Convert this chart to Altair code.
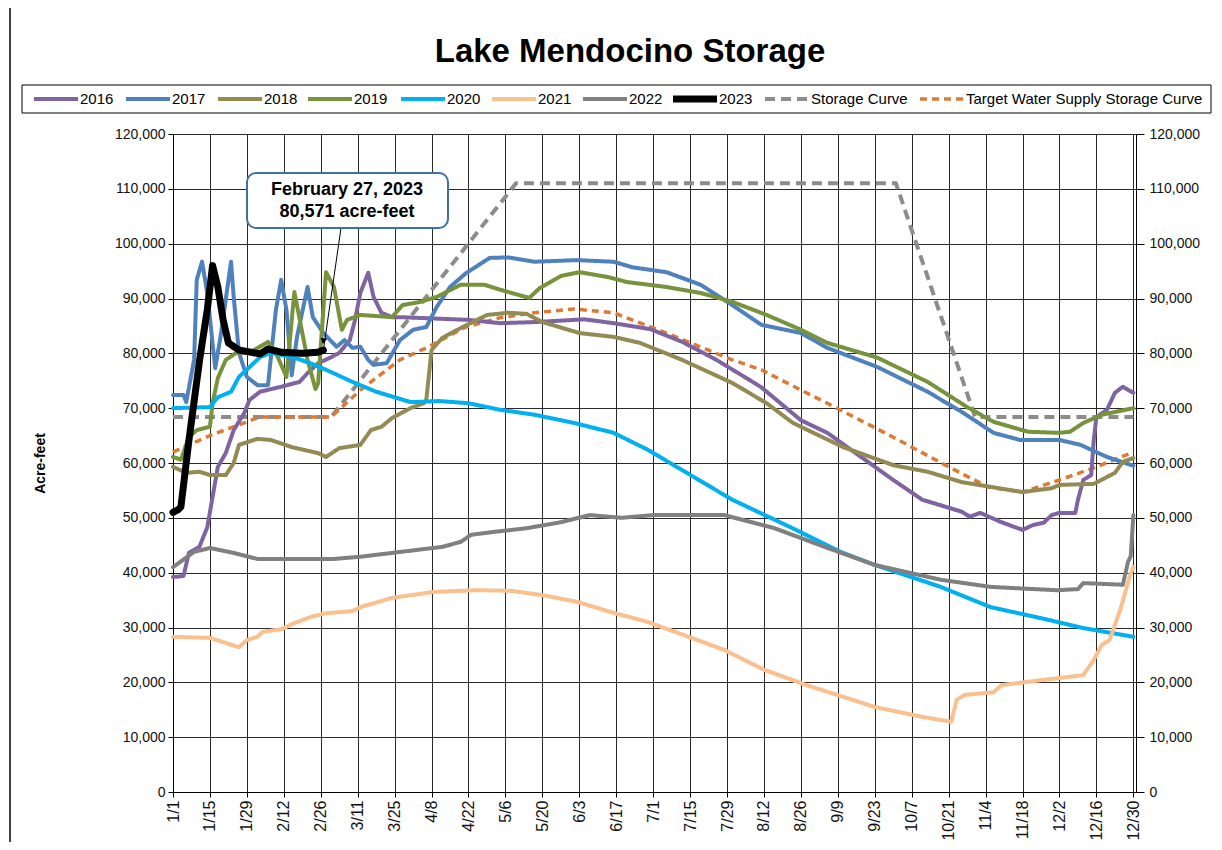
import json
import altair as alt
import pandas as pd

FONT = "Liberation Sans, Arial, Helvetica, sans-serif"

SERIES = ["2016", "2017", "2018", "2019", "2020", "2021", "2022", "2023",
          "Storage Curve", "Target Water Supply Storage Curve"]
COLORS = ["#8064A2", "#4F81BD", "#948A54", "#77933C", "#00B0F0", "#FAC090",
          "#808080", "#000000", "#8C8C8C", "#DD7A36"]
DASHES = [[1, 0]] * 8 + [[10, 6], [7, 5]]

# x positions are day of a (leap) calendar year, values in acre-feet
DAYS_2016 = [1, 5, 7, 11, 14, 16, 18, 21, 24, 28, 30, 34, 42, 49, 52, 56, 61, 64, 68, 70, 72, 75, 77, 80, 84, 87, 113,
             125, 138, 157, 168, 182, 194, 207, 220, 224, 239, 249, 274, 285, 300, 303, 307, 315, 323, 327, 331, 334,
             337, 343, 344, 346, 349, 350, 351, 355, 358, 361, 365]
VALS_2016 = [39200, 39400, 43600, 44700, 48300, 53800, 59300, 61800, 66000, 69100, 71500, 73000, 73900, 74800, 76400,
             78200, 79300, 80100, 82400, 86100, 91000, 94700, 90300, 87400, 86600, 86600, 86100, 85500, 85700, 86200,
             85500, 84400, 82100, 78800, 75000, 73800, 67800, 65500, 56900, 53300, 51100, 50200, 50900, 49200, 47800,
             48700, 49100, 50500, 50900, 50900, 53300, 56900, 57800, 64200, 68400, 69700, 72800, 73900, 72800]

DAYS_2017 = [1, 5, 6, 9, 10, 12, 14, 17, 19, 23, 24, 26, 29, 33, 37, 40, 42, 44, 46, 48, 52, 54, 58, 63, 66, 69, 72,
             75, 77, 82, 87, 92, 97, 101, 106, 112, 121, 128, 138, 154, 168, 175, 188, 201, 213, 224, 239, 249, 268,
             287, 300, 312, 322, 337, 345, 355, 365]
VALS_2017 = [72400, 72400, 71100, 78800, 93400, 96700, 91000, 77300, 83000, 96700, 90300, 80100, 75700, 74200, 74200,
             87900, 93400, 87900, 76000, 83000, 92100, 86600, 83700, 81200, 82400, 81000, 81200, 78800, 77900, 78200,
             82400, 84300, 84800, 88500, 92100, 94600, 97400, 97500, 96700, 97000, 96700, 95700, 94800, 92500, 88800,
             85200, 83700, 81000, 77500, 73000, 69300, 65500, 64200, 64200, 63300, 61100, 59500]

DAYS_2018 = [1, 6, 11, 15, 21, 24, 26, 33, 38, 46, 56, 59, 64, 72, 76, 80, 84, 91, 96, 97, 99, 103, 110, 120, 128,
             135, 141, 155, 168, 178, 194, 213, 226, 236, 255, 274, 287, 300, 314, 323, 334, 337, 350, 358, 361, 365]
VALS_2018 = [59300, 58200, 58400, 57800, 57800, 60000, 63300, 64400, 64200, 62900, 61800, 61100, 62700, 63300, 66000,
             66600, 68200, 70000, 70900, 71500, 80600, 82800, 84600, 87000, 87400, 87200, 85700, 83700, 83000, 81900,
             78800, 74600, 70900, 67300, 62900, 59600, 58400, 56500, 55400, 54700, 55400, 56000, 56200, 58200, 60200,
             60900]

DAYS_2019 = [1, 4, 7, 10, 15, 16, 18, 21, 25, 30, 37, 40, 44, 47, 52, 55, 56, 59, 62, 65, 67, 72, 84, 88, 95, 101,
             110, 119, 125, 136, 140, 148, 155, 166, 173, 188, 201, 213, 226, 239, 249, 268, 287, 302, 312, 325, 337,
             341, 346, 353, 365]
VALS_2019 = [61100, 60600, 64700, 66000, 66600, 70900, 75500, 78800, 80100, 80100, 82100, 80100, 75700, 91200, 78800,
             73500, 74500, 94800, 92100, 84300, 86100, 87000, 86600, 88800, 89400, 90300, 92500, 92500, 91600, 90100,
             91900, 94100, 94800, 93900, 93000, 92100, 91000, 89400, 87000, 84300, 81900, 79200, 74800, 70200, 67500,
             65700, 65500, 65700, 67300, 68800, 70000]

DAYS_2020 = [1, 15, 18, 23, 26, 30, 34, 38, 47, 53, 59, 69, 78, 91, 102, 113, 125, 138, 153, 168, 181, 194, 213, 235,
             254, 267, 292, 311, 330, 346, 365]
VALS_2020 = [70000, 70200, 72000, 73000, 75700, 77500, 79300, 80100, 79200, 78200, 77000, 74800, 73000, 71100, 71300,
             70900, 69700, 68800, 67300, 65500, 62400, 58700, 53300, 48300, 43800, 41400, 37400, 33700, 31700, 29900,
             28300]

DAYS_2021 = [1, 15, 26, 29, 33, 35, 42, 47, 53, 59, 69, 72, 84, 100, 116, 129, 141, 154, 167, 181, 210, 225, 241, 267,
             285, 296, 298, 301, 312, 315, 330, 346, 350, 353, 356, 360, 364, 365]
VALS_2021 = [28300, 28100, 26400, 27700, 28300, 29200, 29700, 30800, 31900, 32600, 33000, 33700, 35400, 36500, 36800,
             36700, 35900, 34700, 32800, 31000, 25900, 22300, 19500, 15500, 13700, 12800, 16800, 17700, 18200, 19500,
             20400, 21300, 24100, 26800, 27700, 33200, 39900, 41000]

DAYS_2022 = [1, 9, 15, 24, 33, 47, 62, 72, 84, 103, 110, 114, 122, 135, 148, 159, 171, 183, 210, 229, 248, 267, 292,
             311, 336, 344, 346, 361, 363, 364, 365]
VALS_2022 = [41000, 43800, 44500, 43600, 42500, 42500, 42500, 42900, 43600, 44700, 45600, 46900, 47400, 48100, 49200,
             50500, 50000, 50500, 50500, 48100, 44700, 41400, 38700, 37400, 36800, 37000, 38100, 37800, 42000, 43000,
             50500]

DAYS_2023 = [1, 3, 4, 7, 11, 14, 16, 18, 20, 22, 26, 34, 37, 42, 50, 56, 58]
VALS_2023 = [51000, 51500, 52000, 64000, 78500, 88000, 96000, 92100, 86100, 81900, 80600, 79900, 80800, 80200, 80000,
             80200, 80571]

DAYS_STORAGE = [1, 61, 131, 275, 305, 365]
VALS_STORAGE = [68400, 68400, 111000, 111000, 68400, 68400]

DAYS_TARGET = [1, 15, 34, 61, 72, 87, 97, 112, 125, 138, 153, 168, 188, 213, 224, 239, 249, 274, 295, 310, 323, 337,
               350, 365]
VALS_TARGET = [62000, 65000, 68400, 68400, 73300, 78800, 81000, 84800, 86500, 87400, 88100, 87400, 83700, 78800,
               77000, 73300, 70900, 64700, 59300, 55600, 54700, 56900, 59100, 62000]

X_TICK_DAYS = [1, 15, 29, 43, 57, 71, 85, 99, 113, 127, 141, 155, 169, 183, 197, 211, 225, 239, 253, 267, 281, 295,
               309, 323, 337, 351, 365]
X_TICK_LABELS = ["1/1", "1/15", "1/29", "2/12", "2/26", "3/11", "3/25", "4/8", "4/22", "5/6", "5/20", "6/3", "6/17",
                 "7/1", "7/15", "7/29", "8/12", "8/26", "9/9", "9/23", "10/7", "10/21", "11/4", "11/18", "12/2",
                 "12/16", "12/30"]
Y_TICKS = [0, 10000, 20000, 30000, 40000, 50000, 60000, 70000, 80000, 90000, 100000, 110000, 120000]

TITLE = "Lake Mendocino Storage"
ANNOT_DATE = "February 27, 2023"

# line style groups: (series, stroke width, cap) drawn in this order
LINE_GROUPS = [
    (["Storage Curve"], 4, "butt"),
    (["Target Water Supply Storage Curve"], 3.5, "butt"),
    (SERIES[:7], 4, "round"),
    (["2023"], 7, "round"),
]

# legend layout (pixel offsets from the plot's left edge; symbol start of each entry)
LEGEND_SYMBOL_START = [-139, -47, 45, 135, 228, 319, 410, 500, 592, 747]
LEGEND_SYMBOL_LEN = 44

series_data = [
    ("2016", DAYS_2016, VALS_2016), ("2017", DAYS_2017, VALS_2017), ("2018", DAYS_2018, VALS_2018),
    ("2019", DAYS_2019, VALS_2019), ("2020", DAYS_2020, VALS_2020), ("2021", DAYS_2021, VALS_2021),
    ("2022", DAYS_2022, VALS_2022), ("2023", DAYS_2023, VALS_2023),
    ("Storage Curve", DAYS_STORAGE, VALS_STORAGE),
    ("Target Water Supply Storage Curve", DAYS_TARGET, VALS_TARGET),
]
rows = []
for name, ds, vs in series_data:
    assert len(ds) == len(vs), name
    for d, v in zip(ds, vs):
        rows.append({"series": name, "day": d, "value": v})
df = pd.DataFrame(rows)

legend_df = pd.DataFrame({
    "series": SERIES,
    "x0": LEGEND_SYMBOL_START,
    "x1": [s + LEGEND_SYMBOL_LEN for s in LEGEND_SYMBOL_START],
    "tx": [s + LEGEND_SYMBOL_LEN + 2 for s in LEGEND_SYMBOL_START],
})

label_expr = "{}[indexof({}, datum.value)]".format(json.dumps(X_TICK_LABELS), json.dumps(X_TICK_DAYS))

x_scale = alt.Scale(domain=[1, 366], nice=False, zero=False)
y_scale = alt.Scale(domain=[0, 120000], nice=False, zero=True)

x_axis = alt.Axis(values=X_TICK_DAYS, labelExpr=label_expr, labelAngle=270, labelAlign="right",
                  labelBaseline="middle", labelPadding=3, tickSize=5, grid=True, title=None,
                  labelFontSize=16, labelOverlap=False, labelBound=False, labelFlush=False)
y_axis = alt.Axis(values=Y_TICKS, labelExpr="format(datum.value, ',.0f')", tickSize=5,
                  labelPadding=3, grid=True, labelOverlap=False,
                  title="Acre-feet", titleX=-133, titleY=329, titleAngle=270,
                  titleFontWeight="bold", titleFontSize=14, titleFont=FONT,
                  titleAlign="center", titleBaseline="middle")
x_enc = alt.X("day:Q", scale=x_scale, axis=x_axis)
y_enc = alt.Y("value:Q", scale=y_scale, axis=y_axis)

color_enc = alt.Color("series:N", scale=alt.Scale(domain=SERIES, range=COLORS), legend=None)
dash_enc = alt.StrokeDash("series:N", scale=alt.Scale(domain=SERIES, range=DASHES), legend=None)

line_layers = []
legend_sym_layers = []
for names, width, cap in LINE_GROUPS:
    line_layers.append(
        alt.Chart(df).transform_filter(alt.FieldOneOfPredicate(field="series", oneOf=names))
        .mark_line(strokeWidth=width, strokeCap=cap, strokeJoin="round")
        .encode(x=x_enc, y=y_enc, color=color_enc, strokeDash=dash_enc)
    )
    legend_sym_layers.append(
        alt.Chart(legend_df).transform_filter(alt.FieldOneOfPredicate(field="series", oneOf=names))
        .mark_rule(strokeWidth=width, strokeCap="butt")
        .encode(x=alt.X("x0:Q", scale=None), x2="x1:Q", y=alt.value(-35),
                color=color_enc, strokeDash=dash_enc)
    )

# annotation for the most recent 2023 reading
last = pd.DataFrame({"day": [DAYS_2023[-1]], "value": [VALS_2023[-1]],
                     "line1": [ANNOT_DATE], "line2": ["{:,} acre-feet".format(VALS_2023[-1])],
                     "title": [TITLE]})
box = alt.Chart(last).mark_rect(fill="white", stroke="#41719C", strokeWidth=2, cornerRadius=9).encode(
    x=alt.value(74), x2=alt.value(275), y=alt.value(39), y2=alt.value(94))
t1 = alt.Chart(last).mark_text(font=FONT, fontSize=18, fontWeight="bold", color="#000",
                               align="center", baseline="middle").encode(
    x=alt.value(174), y=alt.value(56), text="line1:N")
t2 = alt.Chart(last).mark_text(font=FONT, fontSize=18, fontWeight="bold", color="#000",
                               align="center", baseline="middle").encode(
    x=alt.value(174), y=alt.value(78), text="line2:N")
arrow = alt.Chart(last).mark_rule(color="#000", strokeWidth=1).encode(
    x=x_enc, y=y_enc, x2=alt.value(168), y2=alt.value(94))
head = alt.Chart(last).mark_point(shape="triangle-down", filled=True, color="#000", size=45, angle=9,
                                  yOffset=-9, opacity=1).encode(x=x_enc, y=y_enc)
title_text = alt.Chart(last).mark_text(font=FONT, fontSize=33, fontWeight="bold", color="#000",
                                       align="center", baseline="alphabetic").encode(
    x=alt.value(457), y=alt.value(-72), text="title:N")
frame = alt.Chart(last).mark_rule(color="#000", strokeWidth=1.5).encode(
    x=alt.value(-163), y=alt.value(-126), y2=alt.value(720))

# legend: box, line symbols and labels (colours and dashes come from the series scales)
legend_box = alt.Chart(last).mark_rect(fill="white", stroke="#000", strokeWidth=1).encode(
    x=alt.value(-151), x2=alt.value(1038), y=alt.value(-49), y2=alt.value(-21))
legend_lbl = alt.Chart(legend_df).mark_text(font=FONT, fontSize=15, color="#000", align="left",
                                            baseline="middle").encode(
    x=alt.X("tx:Q", scale=None), y=alt.value(-35), text="series:N")

main = alt.layer(*line_layers, arrow, head, box, t1, t2,
                 title_text, legend_box, *legend_sym_layers, legend_lbl, frame)

right_axis = alt.Chart(df).mark_point(opacity=0).encode(
    y=alt.Y("value:Q", scale=y_scale,
            axis=alt.Axis(orient="right", values=Y_TICKS, labelExpr="format(datum.value, ',.0f')",
                          tickSize=8, labelPadding=5, grid=False, title=None, labelOverlap=False)),
)

chart = alt.layer(main, right_axis).resolve_axis(y="independent").properties(
    width=963, height=658,
    autosize=alt.AutoSizeParams(type="none"),
    padding={"left": 165, "top": 126, "right": 77, "bottom": 50},
).configure_view(stroke="#999", strokeWidth=1).configure_axis(
    labelFont=FONT, labelFontSize=14, labelColor="#111", tickColor="#000", domainColor="#000",
    gridColor="#2a2a2a", gridWidth=1, gridOpacity=1, domainWidth=1, tickWidth=1, labelOverlap=False,
).configure_axisX(labelOverlap=False)

chart.save("out.html", embed_options={"renderer": "svg", "actions": False})
